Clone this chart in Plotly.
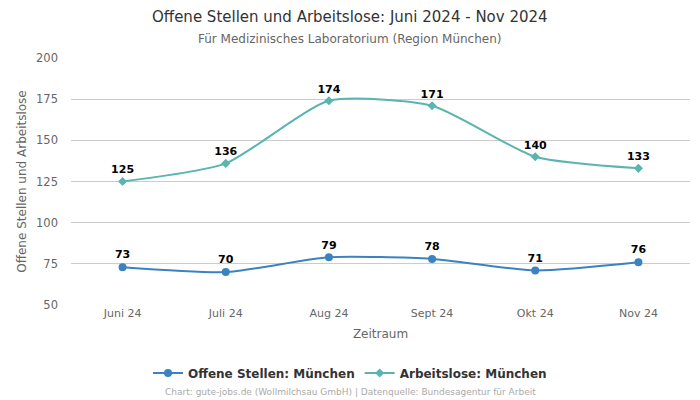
import plotly.graph_objects as go

months = ["Juni 24", "Juli 24", "Aug 24", "Sept 24", "Okt 24", "Nov 24"]
offene = [73, 70, 79, 78, 71, 76]
arbeitslose = [125, 136, 174, 171, 140, 133]
y_ticks = [50, 75, 100, 125, 150, 175, 200]

FONT = "DejaVu Sans"
fig = go.Figure()
fig.add_trace(go.Scatter(
    x=months, y=offene, name="Offene Stellen: München",
    mode="lines+markers+text", line=dict(color="#3a82c0", width=2, shape="spline", smoothing=0.6),
    marker=dict(symbol="circle", size=8, color="#3a82c0"),
    text=[str(v) for v in offene], textposition="top center",
    textfont=dict(family=FONT, size=11, color="#000000", weight="bold"),
    cliponaxis=False,
))
fig.add_trace(go.Scatter(
    x=months, y=arbeitslose, name="Arbeitslose: München",
    mode="lines+markers+text", line=dict(color="#5ab5b0", width=2, shape="spline", smoothing=0.6),
    marker=dict(symbol="diamond", size=7, color="#5ab5b0"),
    text=[str(v) for v in arbeitslose], textposition="top center",
    textfont=dict(family=FONT, size=11, color="#000000", weight="bold"),
    cliponaxis=False,
))
H = 247.0
W = 619.0
def py(pix):
    return (305 - pix) / H
def px(pix):
    return (pix - 71) / W

fig.update_layout(
    width=700, height=400,
    margin=dict(l=71, r=10, t=58, b=95),
    paper_bgcolor="white", plot_bgcolor="white",
    font=dict(family=FONT, color="#666666", size=11),
    xaxis=dict(
        title=dict(text="Zeitraum", font=dict(size=12, color="#666666"), standoff=10),
        showgrid=False, showline=False, zeroline=False, ticks="",
        tickfont=dict(size=11, color="#666666"),
        range=[-0.5, 5.5],
    ),
    yaxis=dict(
        title=dict(text="Offene Stellen und Arbeitslose", font=dict(size=12, color="#666666"), standoff=6),
        range=[50, 200], tickvals=y_ticks, showgrid=True, gridcolor="#cccccc", gridwidth=1,
        zeroline=False, showline=False, ticks="", tickfont=dict(size=11.5, color="#666666"),
        ticklabelstandoff=12,
    ),
    legend=dict(
        orientation="h", x=px(350), xanchor="center", y=py(373), yanchor="middle",
        font=dict(family=FONT, size=12, color="#333333", weight="bold"),
    ),
    showlegend=True,
)
fig.add_annotation(
    text="Offene Stellen und Arbeitslose: Juni 2024 - Nov 2024",
    xref="paper", yref="paper", x=px(350), y=py(17), xanchor="center", yanchor="middle",
    showarrow=False, font=dict(family=FONT, size=15, color="#333333"),
)
fig.add_annotation(
    text="Für Medizinisches Laboratorium (Region München)",
    xref="paper", yref="paper", x=px(350), y=py(39), xanchor="center", yanchor="middle",
    showarrow=False, font=dict(family=FONT, size=12, color="#666666"),
)
fig.add_annotation(
    text="Chart: gute-jobs.de (Wollmilchsau GmbH) | Datenquelle: Bundesagentur für Arbeit",
    xref="paper", yref="paper", x=px(350), y=py(392), xanchor="center", yanchor="middle",
    showarrow=False, font=dict(family=FONT, size=9, color="#aaaaaa"),
)
fig.write_html("out.html")
